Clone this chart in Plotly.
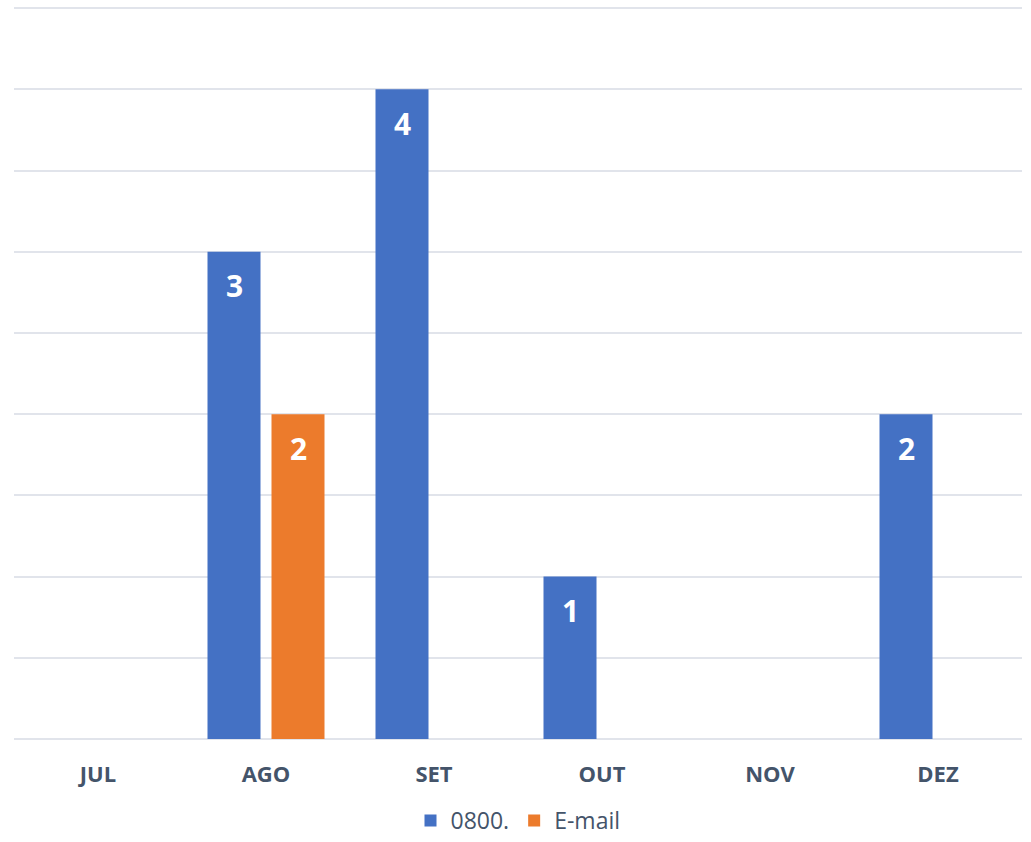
import plotly.graph_objects as go

months = ["JUL", "AGO", "SET", "OUT", "NOV", "DEZ"]
phone_0800 = [None, 3, 4, 1, None, 2]
email = [None, 2, None, None, None, None]

BLUE = "#4471C4"
ORANGE = "#EC7B2C"
TEXT = "#44546A"

fig = go.Figure()
fig.add_trace(go.Bar(name="0800.", x=months, y=phone_0800, marker_color=BLUE,
                     marker_line_width=0))
fig.add_trace(go.Bar(name="E-mail", x=months, y=email, marker_color=ORANGE,
                     marker_line_width=0))

# data labels inside top of bars
for series, shift in ((phone_0800, -32), (email, 32)):
    for m, v in zip(months, series):
        if v is None:
            continue
        fig.add_annotation(x=m, y=v, xref="x", yref="y", text=str(v),
                           showarrow=False, xshift=shift, yshift=-34,
                           font=dict(family="Open Sans", size=30, color="white",
                                     weight="bold"))

fig.update_layout(
    width=1031, height=842,
    margin=dict(l=14, r=9, t=0, b=103),
    paper_bgcolor="white", plot_bgcolor="white",
    barmode="group", bargap=0.238, bargroupgap=0.172,
    showlegend=True,
    legend=dict(orientation="h", x=0.5, xanchor="center",
                yref="container", y=0, yanchor="bottom",
                font=dict(family="Open Sans", size=23, color=TEXT),
                traceorder="normal"),
    xaxis=dict(tickfont=dict(family="Open Sans", size=22, color=TEXT, weight="bold"),
               showline=False, ticks="", showgrid=False, ticklabelstandoff=20),
    yaxis=dict(range=[0, 4.55], dtick=0.5, showticklabels=False,
               gridcolor="#E1E4EB", gridwidth=1.5, zeroline=True,
               zerolinecolor="#E1E4EB", zerolinewidth=1.5, ticks=""),
)

fig.write_html("out.html", config={"displayModeBar": False},
               post_script="document.body.style.margin='0';")
